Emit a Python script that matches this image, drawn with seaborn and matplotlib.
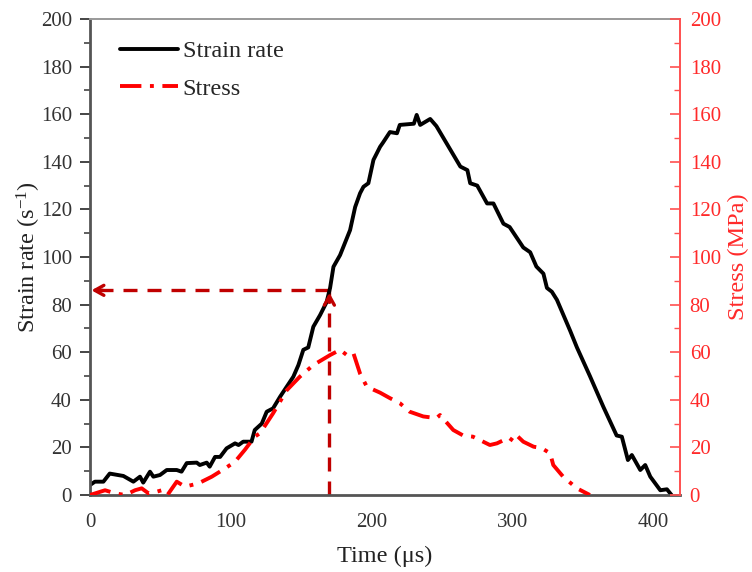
import numpy as np
import pandas as pd
import matplotlib
matplotlib.use("Agg")
import matplotlib.pyplot as plt
from matplotlib.ticker import MultipleLocator
import seaborn as sns

# ---- data ----
strain_time = [0, 3.5, 9.5, 14, 23.7, 30.8, 35.5, 37.8, 42.6, 45, 49.7, 52, 54.5, 61.6, 65,
               68.7, 75.8, 78, 82.9, 85, 88.8, 92.4, 97, 103, 105.5, 108.8, 114.7, 117, 122,
               125.5, 130, 135, 139.7, 144.4, 148, 151.5, 155, 158.6, 163.4, 168, 170.5,
               172.9, 177.6, 182.4, 184.7, 188.3, 191.8, 194.2, 197.7, 201.3, 203.7, 206,
               208, 213, 218, 220, 230, 232, 234.5, 241.6, 246, 256, 263, 268, 270, 275,
               282, 286.5, 293.6, 298, 307.7, 312.6, 317, 322, 324.5, 328, 331.6, 341,
               345.8, 355, 364.6, 374, 377.7, 382, 384.8, 390.8, 394.3, 397.9, 405, 409.7, 413]
strain_rate = [4.2, 5.6, 5.6, 9, 8, 5.6, 7.7, 5.2, 9.8, 7.7, 8.4, 9.4, 10.5, 10.5, 9.8,
               13.4, 13.6, 12.6, 13.6, 11.9, 16, 16, 19.6, 21.7, 21, 22.4, 22.4, 27.3, 30,
               35, 36.4, 41.3, 45.5, 49.7, 54.6, 61, 62, 70.7, 75.6, 81, 87,
               95.9, 100.8, 107.9, 111.3, 121, 126.8, 129.5, 131, 140.8, 143.6, 146.3,
               148, 152.5, 152, 155.5, 156, 159.7, 155.5, 158, 155, 145, 138, 136.5, 131, 130,
               122.5, 122.5, 114, 112.6, 104, 102, 96, 93, 87, 85.4, 82, 69,
               62, 50, 37, 25, 24.5, 14.7, 16.8, 10.5, 12.6, 7.7, 2, 2.4, 0]

stress_time = [0, 10.7, 17.8, 25, 32, 36.7, 42, 51, 55, 61.6, 67.5, 77, 86.5, 96, 103, 110,
               117, 120.8, 130, 139.7, 149, 158.6, 170.5, 177.6, 182.4, 187, 191.8, 196.6,
               206, 213, 220, 227, 236.7, 246, 248.6, 258, 265, 272, 284, 289, 293.6, 298,
               302, 307.7, 315, 320.8, 326.8, 329, 336, 345.8, 355]
stress_mpa = [0, 2, 0.7, 0, 2, 2.8, 0.5, 2, 0, 5.6, 3.5, 4.9, 7.7, 11.2, 14, 19,
              24.5, 26, 34.3, 44, 49.7, 54.6, 58.8, 61, 58.8, 59.7, 51, 45.5,
              43, 40.7, 38.6, 35, 33, 32.3, 33.6, 27.3, 25, 24.5, 21, 21.7, 23, 22.4,
              25.6, 22.4, 20.3, 19.7, 17.5, 12.6, 7.7, 2.8, 0]

marker_time = 170
marker_rate = 86

x_ticks = [0, 100, 200, 300, 400]
y_ticks = [0, 20, 40, 60, 80, 100, 120, 140, 160, 180, 200]

# ---- style ----
sns.set_style("white")
plt.rcParams["font.family"] = ["Liberation Serif", "DejaVu Serif"]
plt.rcParams["mathtext.fontset"] = "custom"
plt.rcParams["mathtext.rm"] = "Liberation Serif"
plt.rcParams["mathtext.it"] = "Liberation Serif:italic"

RED = "#ff0000"
RED_TXT = "#ff2a2a"
DARK_RED = "#c00000"
TICK_FS = 15
LABEL_FS = 17.5

df_rate = pd.DataFrame({"time": strain_time, "rate": strain_rate})
df_stress = pd.DataFrame({"time": stress_time, "stress": stress_mpa})

fig = plt.figure(figsize=(7.52, 5.72), dpi=100)
ax = fig.add_axes([90 / 752, 77 / 572, 590 / 752, 476 / 572])
ax2 = ax.twinx()

sns.lineplot(data=df_rate, x="time", y="rate", ax=ax, color="black", lw=2.8,
             label="Strain rate", legend=False)
sns.lineplot(data=df_stress, x="time", y="stress", ax=ax2, color=RED, lw=2.8,
             linestyle=(0, (5.5, 2.2, 1.0, 2.2)), label="Stress", legend=False)

# marker lines with arrowheads
ax.plot([marker_time, marker_time], [0, marker_rate], color=DARK_RED, lw=2.4,
        linestyle=(0, (4.2, 3.0)), zorder=1)
ax.plot([marker_time, 2], [marker_rate, marker_rate], color=DARK_RED, lw=2.4,
        linestyle=(0, (4.2, 3.0)), zorder=1)
ax.annotate("", xy=(1, marker_rate), xytext=(9, marker_rate),
            arrowprops=dict(arrowstyle="->,head_length=0.65,head_width=0.36",
                            color=DARK_RED, lw=2.4, shrinkA=0, shrinkB=0),
            annotation_clip=False)
ax.annotate("", xy=(marker_time, marker_rate - 1), xytext=(marker_time, marker_rate - 5),
            arrowprops=dict(arrowstyle="->,head_length=0.65,head_width=0.36",
                            color=DARK_RED, lw=2.4, shrinkA=0, shrinkB=0))

# axes limits & ticks
for a in (ax, ax2):
    a.set_ylim(0, 200)
    a.set_yticks(y_ticks)
    a.yaxis.set_minor_locator(MultipleLocator(10))
ax.set_xlim(0, 419)
ax.set_xticks(x_ticks)
ax.xaxis.set_minor_locator(MultipleLocator(50))

ax.tick_params(axis="y", which="major", direction="out", length=7, width=1.4,
               color="#444444", labelsize=TICK_FS, labelcolor="#333333", pad=6,
               left=True, right=False)
ax.tick_params(axis="y", which="minor", direction="out", length=4, width=1.2,
               color="#444444", left=True, right=False)
ax.tick_params(axis="x", which="major", direction="out", length=6, width=1.4,
               color="#444444", labelsize=TICK_FS, labelcolor="#333333", pad=7)
ax.tick_params(axis="x", which="minor", direction="out", length=4, width=1.2,
               color="#444444")
ax2.tick_params(axis="y", which="major", direction="in", length=7, width=1.2,
                color="#ff5050", labelsize=TICK_FS, labelcolor=RED_TXT, pad=7)
ax2.tick_params(axis="y", which="minor", direction="in", length=4, width=1.0,
                color="#ff5050")

ax.spines["left"].set_color("#555555")
ax.spines["left"].set_linewidth(2.0)
ax.spines["bottom"].set_color("#555555")
ax.spines["bottom"].set_linewidth(2.0)
ax.spines["top"].set_color("#999999")
ax.spines["top"].set_linewidth(1.4)
ax.spines["right"].set_visible(False)
ax2.spines["left"].set_visible(False)
ax2.spines["bottom"].set_visible(False)
ax2.spines["top"].set_visible(False)
ax2.spines["right"].set_color("#ff5050")
ax2.spines["right"].set_linewidth(1.4)

ax.set_xlabel("Time (\u03bcs)", fontsize=LABEL_FS, color="#222222", labelpad=10)
ax.set_ylabel("Strain rate (s$^{\\mathrm{-1}}$)", fontsize=LABEL_FS, color="#222222",
              labelpad=-2)
ax2.set_ylabel("Stress (MPa)", fontsize=LABEL_FS, color=RED_TXT, rotation=90,
               labelpad=5)

h1, l1 = ax.get_legend_handles_labels()
h2, l2 = ax2.get_legend_handles_labels()
leg = ax2.legend([h1[0], h2[0]], [l1[0], l2[0]], loc="upper left",
                 bbox_to_anchor=(0.05, 0.955), frameon=False, fontsize=LABEL_FS,
                 handlelength=2.4, handletextpad=0.2, labelspacing=0.64,
                 borderpad=0, borderaxespad=0)

fig.savefig("out.png", dpi=100)
